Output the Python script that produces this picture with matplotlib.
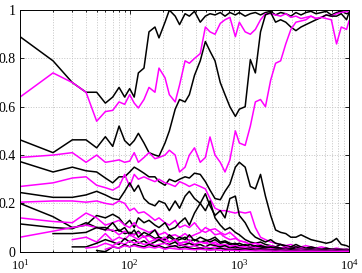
import numpy as np
import matplotlib
matplotlib.use("Agg")
import matplotlib.pyplot as plt
from matplotlib.ticker import LogLocator, NullFormatter

plt.rcParams['font.family'] = ['Liberation Serif', 'DejaVu Serif']
plt.rcParams['mathtext.fontset'] = 'stix'

# sample sizes (x axis)
x = [10, 20, 30, 40, 50, 60, 70, 80, 90, 100,
     110, 120, 135, 150, 170, 185, 210, 230, 260, 285,
     320, 350, 390, 440, 490, 540, 600, 670, 740, 820,
     920, 1000, 1130, 1260, 1400, 1560, 1730, 1930, 2140, 2380,
     2650, 2950, 3280, 3650, 4050, 4500, 5000, 5600, 6200, 6900,
     7700, 8500, 9500, 10000]

N = None

# black curves
black_a = [0.89, 0.79, 0.70, 0.66, 0.66, 0.615, 0.64, 0.68, 0.64, 0.675,
           0.64, 0.74, 0.76, 0.91, 0.93, 0.885, 0.95, 1.0, 0.975, 0.94,
           0.985, 0.975, 0.995, 0.95, 0.975, 0.985, 0.98, 0.99, 0.975, 0.99,
           0.98, 0.99, 0.975, 0.985, 0.99, 0.98, 0.99, 0.995, 0.98, 0.99,
           0.985, 0.975, 0.99, 0.98, 0.99, 0.995, 0.985, 0.99, 0.995, 0.98,
           0.99, 0.995, 0.985, 0.99]
black_b = [0.463, 0.41, 0.463, 0.463, 0.43, 0.476, 0.436, 0.52, 0.46, 0.44,
           0.46, 0.49, 0.45, 0.41, 0.40, 0.395, 0.45, 0.50, 0.59, 0.63,
           0.62, 0.65, 0.73, 0.79, 0.87, 0.83, 0.79, 0.70, 0.65, 0.60,
           0.56, 0.59, 0.60, 0.795, 0.74, 0.91, 0.98, 0.99, 0.95, 0.96,
           0.95, 0.93, 0.915, 0.93, 0.94, 0.95, 0.96, 0.97, 0.98, 0.975,
           0.975, 0.985, 0.96, 0.99]
black_c = [0.373, 0.33, 0.35, 0.335, 0.33, 0.305, 0.285, 0.31, 0.31, 0.33,
           0.35, 0.34, 0.325, 0.31, 0.31, 0.29, 0.275, 0.30, 0.29, 0.30,
           0.31, 0.305, 0.325, 0.32, 0.29, 0.255, 0.22, 0.215, 0.25, 0.28,
           0.35, 0.37, 0.35, 0.27, 0.26, 0.32, 0.23, 0.15, 0.09, 0.08,
           0.075, 0.06, 0.06, 0.07, 0.06, 0.05, 0.045, 0.04, 0.035, 0.04,
           0.055, 0.03, 0.025, 0.02]
black_d = [0.245, 0.225, 0.225, 0.235, 0.25, 0.235, 0.22, 0.215, 0.25, 0.285,
           0.25, 0.275, 0.22, 0.20, 0.19, 0.21, 0.20, 0.17, 0.21, 0.18,
           0.23, 0.25, 0.22, 0.20, 0.24, 0.19, 0.15, 0.17, 0.14, 0.22,
           0.23, 0.15, 0.12, 0.08, 0.06, 0.05, 0.04, 0.05, 0.035, 0.03,
           0.025, 0.02, 0.03, 0.02, 0.015, 0.02, 0.015, 0.01, 0.015, 0.01,
           0.01, 0.008, 0.01, 0.008]
black_e = [0.20, 0.145, 0.10, 0.11, 0.15, 0.14, 0.155, 0.14, 0.11, 0.13,
           0.10, 0.14, 0.12, 0.13, 0.11, 0.10, 0.12, 0.09, 0.10, 0.12,
           0.14, 0.11, 0.16, 0.20, 0.17, 0.21, 0.14, 0.11, 0.09, 0.10,
           0.08, 0.07, 0.05, 0.04, 0.035, 0.04, 0.03, 0.025, 0.02, 0.03,
           0.02, 0.015, 0.02, 0.015, 0.01, 0.015, 0.01, 0.01, 0.008, 0.01,
           0.008, 0.01, 0.006, 0.008]
black_f = [0.115, 0.10, 0.095, 0.12, 0.10, 0.10, 0.085, 0.09, 0.075, 0.08,
           0.07, 0.085, 0.06, 0.07, 0.055, 0.06, 0.05, 0.06, 0.045, 0.05,
           0.06, 0.045, 0.05, 0.04, 0.045, 0.05, 0.06, 0.04, 0.045, 0.035,
           0.03, 0.035, 0.025, 0.03, 0.02, 0.025, 0.02, 0.015, 0.02, 0.015,
           0.01, 0.015, 0.01, 0.008, 0.01, 0.008, 0.006, 0.008, 0.006, 0.005,
           0.006, 0.005, 0.004, 0.005]
black_g = [N, 0.075, 0.075, 0.08, 0.10, 0.09, 0.12, 0.085, 0.10, 0.07,
           0.09, 0.06, 0.08, 0.07, 0.09, 0.06, 0.05, 0.07, 0.05, 0.06,
           0.05, 0.07, 0.045, 0.06, 0.05, 0.04, 0.05, 0.035, 0.04, 0.03,
           0.035, 0.025, 0.03, 0.02, 0.025, 0.02, 0.015, 0.02, 0.015, 0.01,
           0.015, 0.01, 0.008, 0.01, 0.008, 0.006, 0.008, 0.006, 0.005, 0.006,
           0.005, 0.004, 0.005, 0.004]
black_h = [N, N, 0.02, 0.02, 0.035, 0.05, 0.04, 0.03, 0.055, 0.04,
           0.05, 0.035, 0.045, 0.03, 0.04, 0.05, 0.035, 0.03, 0.04, 0.025,
           0.03, 0.035, 0.025, 0.03, 0.02, 0.03, 0.025, 0.02, 0.025, 0.015,
           0.02, 0.015, 0.012, 0.015, 0.01, 0.012, 0.01, 0.008, 0.01, 0.008,
           0.006, 0.008, 0.006, 0.005, 0.006, 0.005, 0.004, 0.005, 0.004, 0.003,
           0.004, 0.003, 0.003, 0.003]
black_i = [N, N, N, N, 0.005, 0.0, 0.02, 0.015, 0.03, 0.02,
           0.03, 0.025, 0.02, 0.03, 0.02, 0.025, 0.015, 0.02, 0.025, 0.015,
           0.02, 0.015, 0.012, 0.015, 0.01, 0.012, 0.01, 0.015, 0.01, 0.008,
           0.01, 0.008, 0.006, 0.008, 0.006, 0.005, 0.006, 0.005, 0.004, 0.005,
           0.004, 0.003, 0.004, 0.003, 0.002, 0.003, 0.002, 0.002, 0.002, 0.002,
           0.002, 0.001, 0.002, 0.001]

# magenta curves
mag_a = [0.64, 0.74, 0.70, 0.66, 0.54, 0.58, 0.585, 0.62, 0.61, 0.65,
         0.615, 0.595, 0.63, 0.68, 0.66, 0.76, 0.72, 0.65, 0.62, 0.69,
         0.79, 0.78, 0.80, 0.82, 0.93, 0.91, 0.90, 0.945, 0.96, 0.97,
         0.89, 0.95, 0.91, 0.90, 0.92, 0.96, 0.985, 0.985, 0.98, 0.975,
         0.985, 0.97, 0.975, 0.965, 0.97, 0.975, 0.965, 0.97, 0.98, 0.975,
         0.985, 0.99, 0.995, 0.99]
mag_b = [0.39, 0.40, 0.41, 0.37, 0.40, 0.37, 0.375, 0.38, 0.37, 0.375,
         0.41, 0.37, 0.39, 0.41, 0.385, 0.39, 0.40, 0.42, 0.40, 0.33,
         0.35, 0.40, 0.43, 0.37, 0.39, 0.475, 0.40, 0.37, 0.33, 0.38,
         0.50, 0.45, 0.44, 0.52, 0.62, 0.63, 0.60, 0.71, 0.78, 0.79,
         0.86, 0.92, 0.95, 0.955, 0.96, 0.975, 0.965, 0.97, 0.965, 0.96,
         0.86, 0.93, 0.92, 0.955]
mag_c = [0.27, 0.285, 0.305, 0.31, 0.275, 0.265, 0.255, 0.27, 0.32, 0.27,
         0.32, 0.30, 0.31, 0.30, 0.29, 0.30, 0.285, 0.28, 0.27, 0.29,
         0.28, 0.27, 0.28, 0.27, 0.26, 0.22, 0.18, 0.17, 0.17, 0.165,
         0.16, 0.165, 0.16, 0.165, 0.10, 0.06, 0.05, 0.04, 0.035, 0.03,
         0.025, 0.03, 0.02, 0.02, 0.025, 0.02, 0.015, 0.02, 0.015, 0.01,
         0.015, 0.01, 0.01, 0.01]
mag_d = [0.205, 0.21, 0.21, 0.205, 0.21, 0.20, 0.195, 0.21, 0.20, 0.17,
         0.18, 0.16, 0.165, 0.15, 0.13, 0.14, 0.12, 0.11, 0.13, 0.10,
         0.11, 0.10, 0.12, 0.09, 0.08, 0.09, 0.07, 0.075, 0.06, 0.05,
         0.055, 0.045, 0.04, 0.03, 0.035, 0.025, 0.02, 0.025, 0.02, 0.015,
         0.02, 0.015, 0.01, 0.015, 0.01, 0.01, 0.008, 0.01, 0.008, 0.006,
         0.008, 0.006, 0.005, 0.006]
mag_e = [0.14, 0.125, 0.12, 0.16, 0.14, 0.11, 0.12, 0.13, 0.11, 0.10,
         0.12, 0.10, 0.09, 0.08, 0.09, 0.07, 0.08, 0.065, 0.07, 0.06,
         0.075, 0.06, 0.07, 0.08, 0.10, 0.09, 0.095, 0.08, 0.07, 0.08,
         0.06, 0.045, 0.04, 0.03, 0.035, 0.03, 0.02, 0.025, 0.02, 0.015,
         0.02, 0.015, 0.01, 0.015, 0.01, 0.008, 0.01, 0.008, 0.006, 0.008,
         0.006, 0.005, 0.006, 0.005]
mag_f = [0.06, 0.085, 0.10, 0.11, 0.10, 0.09, 0.09, 0.07, 0.085, 0.075,
         0.07, 0.08, 0.06, 0.065, 0.05, 0.055, 0.045, 0.04, 0.05, 0.035,
         0.04, 0.035, 0.03, 0.04, 0.035, 0.045, 0.03, 0.03, 0.025, 0.03,
         0.02, 0.025, 0.02, 0.015, 0.02, 0.015, 0.01, 0.012, 0.01, 0.008,
         0.01, 0.008, 0.006, 0.008, 0.006, 0.005, 0.006, 0.005, 0.004, 0.005,
         0.004, 0.003, 0.004, 0.003]
mag_g = [N, N, 0.05, 0.06, 0.04, 0.075, 0.045, 0.06, 0.05, 0.07,
         0.06, 0.05, 0.065, 0.04, 0.05, 0.045, 0.06, 0.04, 0.05, 0.035,
         0.04, 0.05, 0.03, 0.04, 0.035, 0.03, 0.04, 0.025, 0.03, 0.02,
         0.025, 0.02, 0.015, 0.02, 0.015, 0.012, 0.01, 0.012, 0.01, 0.008,
         0.01, 0.008, 0.006, 0.008, 0.006, 0.005, 0.006, 0.005, 0.004, 0.005,
         0.004, 0.003, 0.004, 0.003]
mag_h = [N, N, N, 0.015, 0.02, 0.035, 0.025, 0.04, 0.03, 0.045,
         0.035, 0.04, 0.03, 0.035, 0.025, 0.03, 0.035, 0.025, 0.02, 0.03,
         0.025, 0.02, 0.025, 0.015, 0.02, 0.015, 0.02, 0.012, 0.015, 0.01,
         0.012, 0.01, 0.008, 0.01, 0.008, 0.006, 0.008, 0.006, 0.005, 0.006,
         0.005, 0.004, 0.005, 0.004, 0.003, 0.004, 0.003, 0.003, 0.002, 0.003,
         0.002, 0.002, 0.003, 0.002]
mag_i = [N, N, N, N, N, 0.01, 0.02, 0.015, 0.025, 0.02,
         0.025, 0.02, 0.015, 0.02, 0.015, 0.02, 0.01, 0.015, 0.012, 0.01,
         0.012, 0.01, 0.008, 0.01, 0.008, 0.006, 0.008, 0.006, 0.005, 0.006,
         0.005, 0.004, 0.005, 0.004, 0.003, 0.004, 0.003, 0.003, 0.002, 0.003,
         0.002, 0.002, 0.002, 0.002, 0.001, 0.002, 0.001, 0.001, 0.001, 0.001,
         0.001, 0.001, 0.001, 0.001]

black_lines = [black_a, black_b, black_c, black_d, black_e, black_f,
               black_g, black_h, black_i]
mag_lines = [mag_a, mag_b, mag_c, mag_d, mag_e, mag_f, mag_g, mag_h, mag_i]

fig = plt.figure(figsize=(3.62, 2.73), dpi=100)
ax = fig.add_axes([0.0553, 0.078, 0.9088, 0.885])

for bl, ml in zip(black_lines, mag_lines):
    ax.plot(x, np.array(bl, dtype=float), color='black', lw=1.1)
    ax.plot(x, np.array(ml, dtype=float), color='#ff00ff', lw=1.1)

ax.set_xscale('log')
ax.set_xlim(10, 10000)
ax.set_ylim(0, 1)
ax.set_yticks([0, 0.2, 0.4, 0.6, 0.8, 1])
ax.set_yticklabels(['0', '0.2', '0.4', '0.6', '0.8', '1'])
ax.xaxis.set_minor_locator(LogLocator(base=10, subs=np.arange(2, 10)))
ax.xaxis.set_minor_formatter(NullFormatter())

ax.grid(True, which='major', color='#c4c4c4', ls=':', lw=0.7)
ax.grid(True, which='minor', axis='x', color='#c4c4c4', ls=':', lw=0.7)
ax.tick_params(which='both', direction='in', top=True, right=True,
               labelsize=10, width=0.6)
ax.tick_params(axis='x', pad=4.5, labelsize=9)
ax.tick_params(axis='y', pad=3)
ax.tick_params(which='major', length=3)
ax.tick_params(which='minor', length=1.5)
for s in ax.spines.values():
    s.set_linewidth(0.7)

fig.savefig('out.png', dpi=100)
